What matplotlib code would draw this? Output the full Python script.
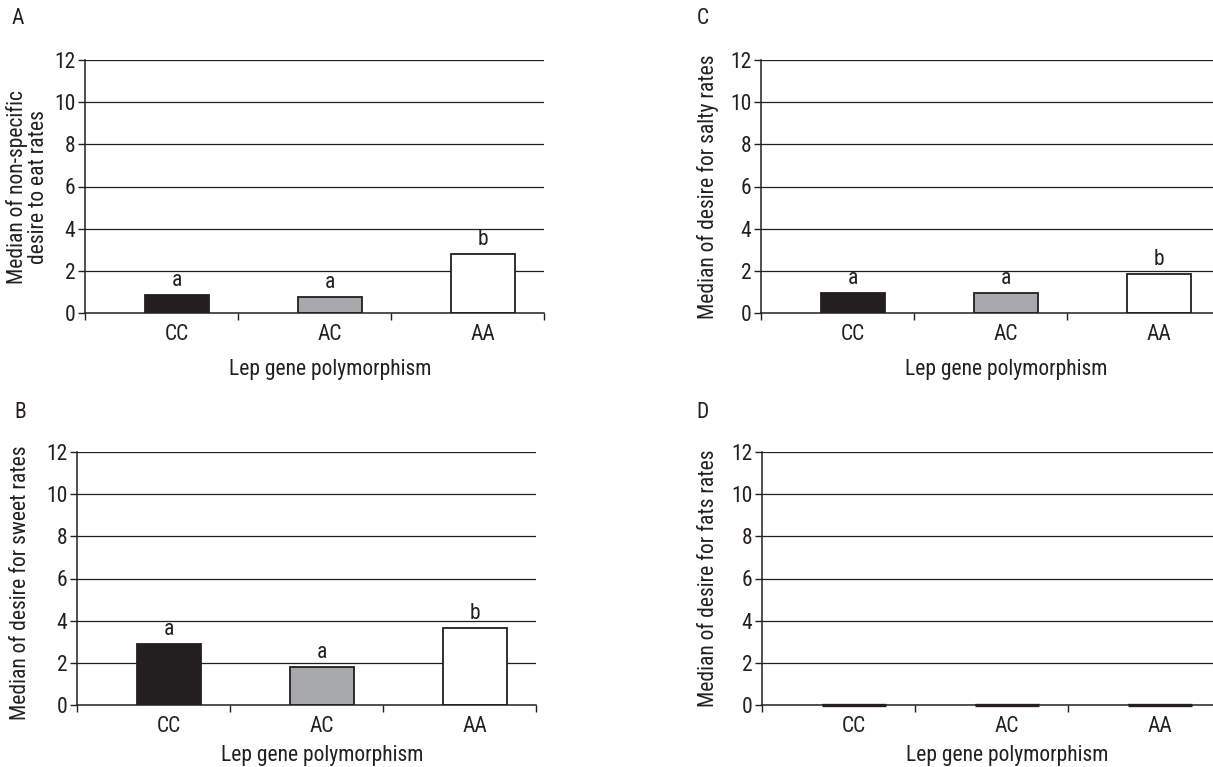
import matplotlib
matplotlib.use("Agg")
import matplotlib.pyplot as plt
from matplotlib import font_manager

categories = ["CC", "AC", "AA"]
values_A = [0.85, 0.75, 2.8]
values_B = [2.9, 1.8, 3.65]
values_C = [0.95, 0.95, 1.85]
values_D = [0.0, 0.0, 0.0]
sig_A = ["a", "a", "b"]
sig_B = ["a", "a", "b"]
sig_C = ["a", "a", "b"]
ylabel_A = "Median of non-specific\ndesire to eat rates"
ylabel_B = "Median of desire for sweet rates"
ylabel_C = "Median of desire for salty rates"
ylabel_D = "Median of desire for fats rates"
xlabel = "Lep gene polymorphism"
yticks = [0, 2, 4, 6, 8, 10, 12]
bar_colors = ["#231f20", "#a7a9ac", "#ffffff"]

names = {f.name for f in font_manager.fontManager.ttflist}
main = "DejaVu Sans"
for cand in ["Roboto Condensed", "Archivo Narrow", "Barlow Semi Condensed", "Asap Condensed", "Liberation Sans"]:
    if cand in names:
        main = cand
        break
plt.rcParams["font.family"] = [main, "DejaVu Sans"]

W, H = 1213, 767
fig = plt.figure(figsize=(W / 100, H / 100), dpi=100)
INK = "#231f20"
FS = 15.5
BW = 0.42
XMIN, XMAX = -0.6, 2.4


def px_axes(left, right, top, bottom):
    return fig.add_axes([left / W, 1 - bottom / H, (right - left) / W, (bottom - top) / H])


def panel(ax, vals, sig, ylab, letter, lx, ly, ylab_x, xpad):
    x = list(range(len(categories)))
    ax.bar(x, vals, width=BW, color=bar_colors, edgecolor=INK, linewidth=1.3, zorder=3)
    if max(vals) == 0:
        ax.hlines(vals, [xi - BW / 2 for xi in x], [xi + BW / 2 for xi in x],
                  colors=INK, linewidth=2.4, zorder=5, clip_on=False)
    ax.set_xlim(XMIN, XMAX)
    ax.set_ylim(0, 12)
    ax.set_yticks(yticks)
    ax.set_yticklabels([str(t) for t in yticks], fontsize=FS, color=INK)
    for t in yticks[1:]:
        ax.axhline(t, color=INK, lw=0.9, zorder=1)
    ax.set_xticks(x)
    ax.set_xticklabels(categories, fontsize=FS, color=INK)
    ax.tick_params(axis="x", which="major", length=0, pad=8)
    ax.set_xticks([XMIN, 0.4, 1.4, XMAX], minor=True)
    ax.tick_params(axis="x", which="minor", length=5, width=1, color=INK, direction="out")
    ax.tick_params(axis="y", length=5, width=1, color=INK, pad=2, direction="out")
    for s in ["top", "right"]:
        ax.spines[s].set_visible(False)
    for s in ["left", "bottom"]:
        ax.spines[s].set_color(INK)
        ax.spines[s].set_linewidth(1.1)
    ax.spines["bottom"].set_zorder(4)
    mid = (1 - XMIN) / (XMAX - XMIN)
    ax.set_xlabel(xlabel, fontsize=FS, color=INK, labelpad=xpad, x=mid, ha="center")
    if sig:
        for xi, v, s in zip(x, vals, sig):
            ax.text(xi, v + 0.2, s, ha="center", va="bottom", fontsize=FS, color=INK)
    fig.text(ylab_x / W, 1 - ly / H, ylab, rotation=90, ha="center", va="center",
             fontsize=FS, color=INK, linespacing=1.0)
    fig.text(lx / W, 1 - letter[1] / H, letter[0], ha="center", va="center", fontsize=FS, color=INK)


axA = px_axes(85, 544, 60, 313)
panel(axA, values_A, sig_A, ylabel_A, ("A", 19), 18, 187, 28, 10)
axC = px_axes(761, 1220, 60, 313)
panel(axC, values_C, sig_C, ylabel_C, ("C", 19), 703, 187, 708, 10)
axB = px_axes(77, 536, 452, 705)
panel(axB, values_B, sig_B, ylabel_B, ("B", 413), 20, 583, 21, 6)
axD = px_axes(762, 1221, 452, 705)
panel(axD, values_D, None, ylabel_D, ("D", 413), 703, 578, 708, 6)

fig.savefig("out.png", dpi=100)
